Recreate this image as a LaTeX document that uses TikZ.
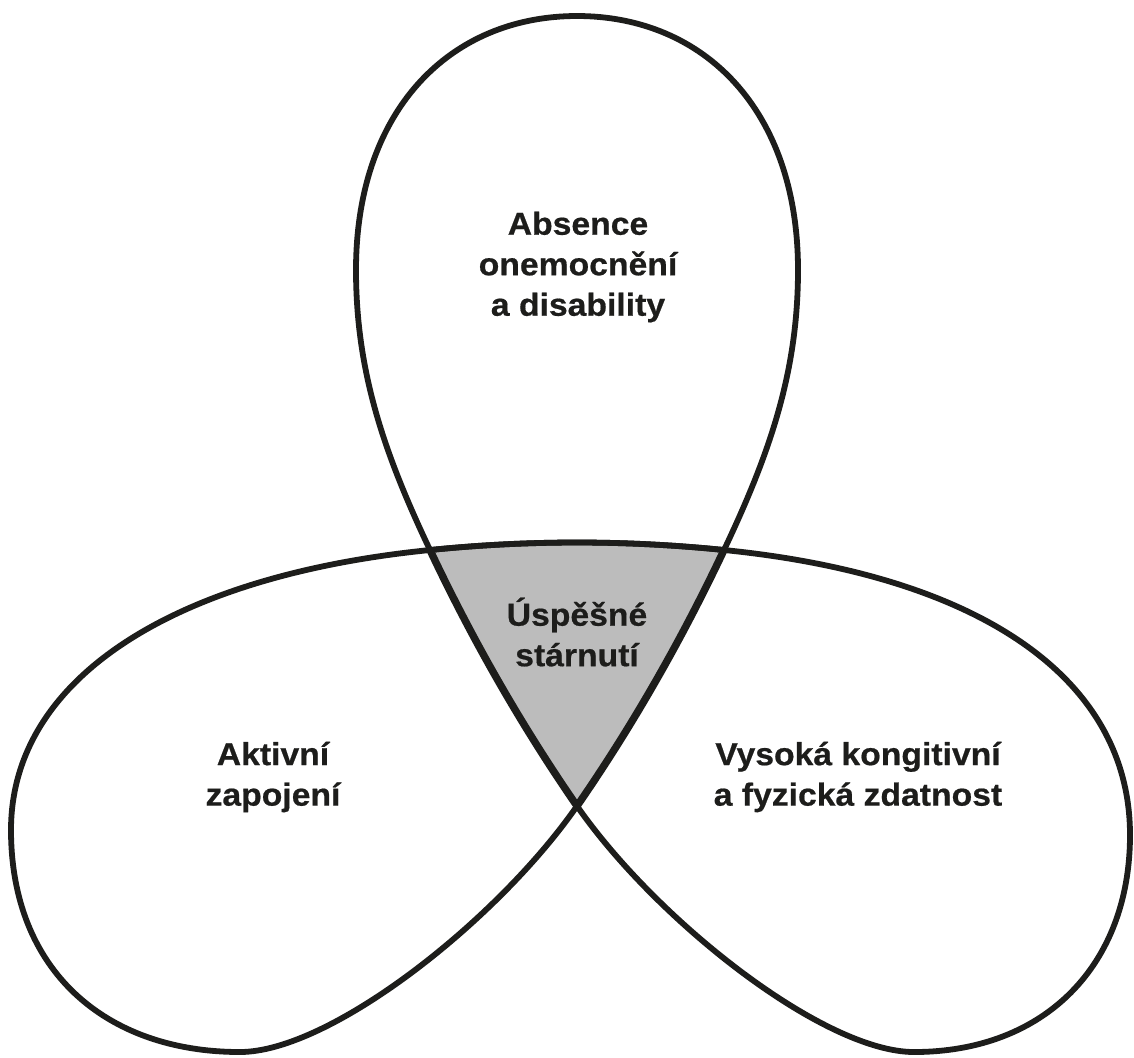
\documentclass[tikz,border=0pt]{standalone}
\usepackage{fontspec}
\newfontfamily\lblfont[FakeStretch=1.06,FakeBold=0.6]{Liberation Sans}
\definecolor{ink}{HTML}{1D1D1B}
\definecolor{core}{HTML}{BCBCBC}
\begin{document}
\begin{tikzpicture}[x=0.5pt,y=-0.5pt,
  lobe/.style={draw=ink,line width=2.9pt,line join=round},
  triside/.style={draw=ink,line width=3.7pt,line cap=round},
  lbl/.style={font={\lblfont\bfseries\fontsize{15.9pt}{20.25pt}\selectfont},text=ink,align=center,inner sep=0pt}]
\path[use as bounding box,fill=white] (0,0) rectangle (1134,1057);
\coordinate (A) at (430,550);
\coordinate (B) at (724,550);
\coordinate (C) at (577,806);
\coordinate (TL) at (356,270);
\coordinate (TT) at (577,16);
\coordinate (TR) at (798,270);
\coordinate (L) at (11,830);
\coordinate (LB) at (240,1052);
\coordinate (R) at (1130,835);
\coordinate (RB) at (914,1052);
% shared core
\fill[core] (A) .. controls (528,540) and (626,540) .. (B)
  .. controls (682,639) and (633,725) .. (C)
  .. controls (521,725) and (472,639) .. cycle;
% top lobe
\draw[lobe] (C) .. controls (521,725) and (472,639) .. (A)
  .. controls (383,451) and (356,370) .. (TL)
  .. controls (356,110) and (450,16) .. (TT)
  .. controls (704,16) and (798,110) .. (TR)
  .. controls (798,370) and (771,451) .. (B)
  .. controls (682,639) and (633,725) .. cycle;
% bottom-left lobe
\draw[lobe] (B) .. controls (626,540) and (528,540) .. (A)
  .. controls (171,576) and (11,680) .. (L)
  .. controls (11,970) and (105,1052) .. (LB)
  .. controls (330,1052) and (497,921) .. (C)
  .. controls (633,725) and (682,639) .. cycle;
% bottom-right lobe
\draw[lobe] (A) .. controls (528,540) and (626,540) .. (B)
  .. controls (983,576) and (1130,680) .. (R)
  .. controls (1130,965) and (1045,1052) .. (RB)
  .. controls (824,1052) and (657,921) .. (C)
  .. controls (521,725) and (472,639) .. cycle;
% emphasised core sides
\draw[triside] (A) .. controls (472,639) and (521,725) .. (C);
\draw[triside] (B) .. controls (682,639) and (633,725) .. (C);
% labels
\node[lbl] (absence) at (578,267) {Absence\\onemocnění\\a disability};
\node[lbl] (aktivni) at (273,777) {Aktivní\\zapojení};
\node[lbl] (vysoka) at (858,777) {Vysoká kongitivní\\a fyzická zdatnost};
\node[lbl] (uspesne) at (577,632) {Úspěšné\\stárnutí};
\end{tikzpicture}
\end{document}
